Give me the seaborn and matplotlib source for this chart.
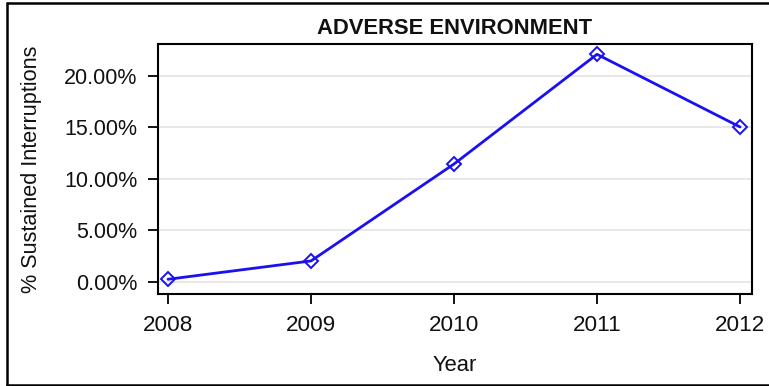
import matplotlib
matplotlib.use("Agg")
import matplotlib.pyplot as plt
import seaborn as sns
import pandas as pd
from matplotlib.ticker import FuncFormatter
from matplotlib.lines import Line2D

years = [2008, 2009, 2010, 2011, 2012]
pct_sustained = [0.26, 2.04, 11.45, 22.1, 15.05]
y_ticks = [0, 5, 10, 15, 20]
title = "ADVERSE ENVIRONMENT"
x_label = "Year"
y_label = "% Sustained Interruptions"

df = pd.DataFrame({"Year": years, "Pct": pct_sustained})

sns.set_theme(style="white")
plt.rcParams["font.family"] = ["Liberation Sans", "DejaVu Sans"]

W, H = 769, 386
fig = plt.figure(figsize=(W / 100, H / 100), dpi=100)
ax = fig.add_axes([158 / W, 1 - 294 / H, (752 - 158) / W, (294 - 44) / H])

ax.yaxis.grid(True, color="#e4e4e4", linewidth=1.2)
ax.set_axisbelow(True)

sns.lineplot(data=df, x="Year", y="Pct", ax=ax, color="#1a10f0", linewidth=2,
             marker="D", markersize=7, markerfacecolor="none",
             markeredgecolor="#1a10f0", markeredgewidth=1.4)

ax.set_xlim(2007.93, 2012.084)
ax.set_ylim(-1.17, 23.1)
ax.set_xticks(years)
ax.set_xticklabels([str(y) for y in years])
ax.set_yticks(y_ticks)
ax.yaxis.set_major_formatter(FuncFormatter(lambda v, p: f"{v:.2f}%"))

ax.tick_params(axis="both", which="major", direction="out", length=7, width=1.3,
               color="black", labelcolor="#111111", bottom=True, left=True)
ax.tick_params(axis="y", labelsize=15.5, pad=8)
ax.tick_params(axis="x", labelsize=16.2, pad=8)
for s in ax.spines.values():
    s.set_color("black")
    s.set_linewidth(1.5)

ax.set_xlabel(x_label, fontsize=15.8, color="#111111", labelpad=14)
ax.set_ylabel(y_label, fontsize=15.6, color="#111111", labelpad=15.5)
ax.set_title(title, fontsize=15.8, fontweight="bold", color="#111111", pad=7)

# figure border (top, left, bottom)
fx0, fy_top, fy_bot = 6.5 / W, 1 - 2.5 / H, 1 - 385 / H
for xs, ys in [([fx0, 1], [fy_top, fy_top]), ([fx0, fx0], [fy_top, fy_bot]), ([fx0, 1], [fy_bot, fy_bot])]:
    fig.add_artist(Line2D(xs, ys, transform=fig.transFigure, color="black", linewidth=1.8))

fig.savefig("out.png", dpi=100)
